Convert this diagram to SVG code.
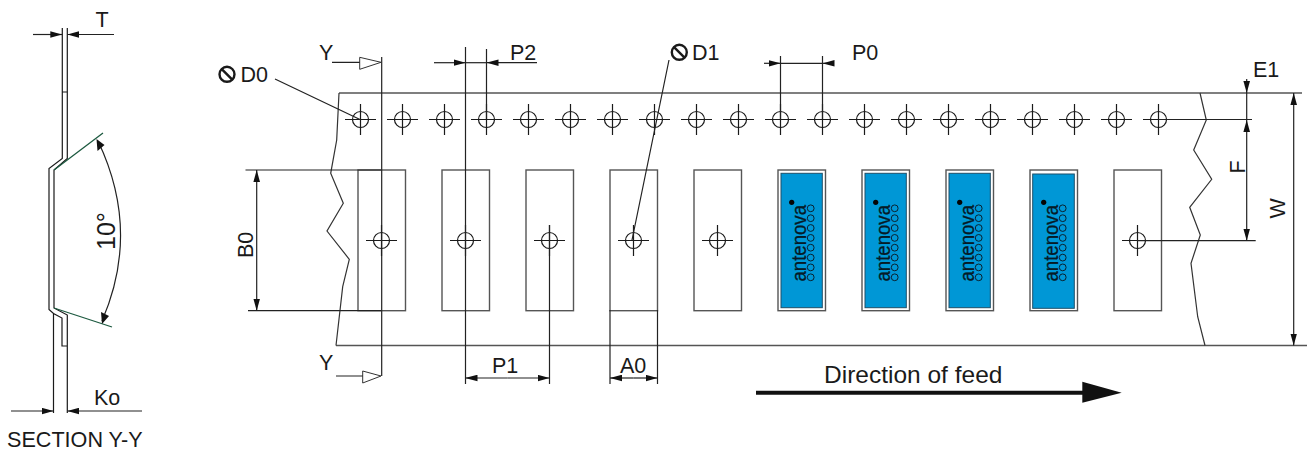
<svg xmlns="http://www.w3.org/2000/svg" width="1308" height="453" viewBox="0 0 1308 453">
<style>
text{font-family:"Liberation Sans",Arial,sans-serif;font-size:21.500px;fill:#1a1a1a}
.l{fill:none;stroke:#1a1a1a;stroke-width:1.2}
.g{fill:none;stroke:#555;stroke-width:1.4}
.t{fill:none;stroke:#333;stroke-width:1.2}
.d{fill:none;stroke:#222;stroke-width:1.2}
.a{marker-end:url(#arr)}
.grn{fill:none;stroke:#1d5a40;stroke-width:1.3}
.blue{fill:#0097d6;stroke:#1f4f68;stroke-width:1}
.brand{font-size:20.500px;fill:#061a26;stroke:#061a26;stroke-width:.3}
.c{fill:none;stroke:#0a2230;stroke-width:1}
</style>
<defs>
<marker id="arr" markerUnits="userSpaceOnUse" markerWidth="12" markerHeight="7" refX="12" refY="3.500" orient="auto"><path d="M0 0.200L12 3.500L0 6.800z" fill="#111"/></marker>
<g id="hole"><circle r="8" class="l"/><path d="M-15.500 0H15.500M0 -15.500V15.500" class="l"/></g>
<g id="phi"><circle r="7.500" fill="none" stroke="#1a1a1a" stroke-width="2.400"/><path d="M-5.500 -5.500L5.500 5.500" fill="none" stroke="#1a1a1a" stroke-width="2.400"/></g>
<g id="logo">
<text class="brand" transform="translate(27.700 111.500) rotate(-90)" textLength="76.500" lengthAdjust="spacingAndGlyphs">antenova</text>
<circle cx="13.700" cy="32.300" r="2.600" fill="#050505"/>
<g class="c"><circle cx="32.700" cy="38.300" r="3.400"/><circle cx="32.700" cy="48.200" r="3.400"/><circle cx="32.700" cy="58" r="3.400"/><circle cx="32.700" cy="67.900" r="3.400"/><circle cx="32.700" cy="77.700" r="3.400"/><circle cx="32.700" cy="87.600" r="3.400"/><circle cx="32.700" cy="97.400" r="3.400"/><circle cx="32.700" cy="107.300" r="3.400"/></g>
</g>
</defs>

<g id="section-view">
<path class="l" d="M62.300 28V158.500L49 168.500V309.500L53.500 313.500L62 318V346H67.300M67.300 28V158.500L54 170V308L67.300 315V413M53.500 313V413M62.300 92H67.300"/>
<path class="grn" d="M54 170L103 133M54 308L112 327"/>
<path class="d" d="M98 141Q141 231 102 321"/>
<path d="M96.500 139L104.500 145L97.500 151z" fill="#111"/>
<path d="M102 324L101 312L109 316z" fill="#111"/>
<text transform="translate(114.500 250) rotate(-90)" style="font-size:25px">10°</text>
<text x="95.500" y="27">T</text>
<text x="94" y="405">Ko</text>
<text x="7" y="447" style="font-size:21.600px">SECTION Y-Y</text>
</g>

<g id="tape">
<path class="g" d="M339 93H1302M336 345.500H1307"/>
<path class="t" d="M339 93L336.700 140L330.700 173.300L343.300 203.300L327 231L349.300 259.300L342.700 286.700L336 345.500"/>
<path class="t" d="M1200 93L1206.300 120L1193.700 150L1211.700 179.300L1189.700 207.300L1200.300 235L1191 263.300L1197.700 316.700L1205 345.500"/>
</g>

<g id="sprocket-holes">
<use href="#hole" x="360.500" y="119.500"/><use href="#hole" x="402.500" y="119.500"/><use href="#hole" x="444.500" y="119.500"/><use href="#hole" x="486.500" y="119.500"/><use href="#hole" x="528.500" y="119.500"/><use href="#hole" x="570.500" y="119.500"/><use href="#hole" x="612.500" y="119.500"/><use href="#hole" x="654.500" y="119.500"/><use href="#hole" x="696.500" y="119.500"/><use href="#hole" x="738.500" y="119.500"/><use href="#hole" x="780.500" y="119.500"/><use href="#hole" x="822.500" y="119.500"/><use href="#hole" x="864.500" y="119.500"/><use href="#hole" x="906.500" y="119.500"/><use href="#hole" x="948.500" y="119.500"/><use href="#hole" x="990.500" y="119.500"/><use href="#hole" x="1032.500" y="119.500"/><use href="#hole" x="1074.500" y="119.500"/><use href="#hole" x="1116.500" y="119.500"/><use href="#hole" x="1158.500" y="119.500"/>
</g>

<g id="cavity-1"><rect class="g" x="358" y="170" width="47.500" height="140.700"/><use href="#hole" x="381.500" y="240.500"/></g>
<g id="cavity-2"><rect class="g" x="442" y="170" width="47.500" height="140.700"/><use href="#hole" x="465.500" y="240.500"/></g>
<g id="cavity-3"><rect class="g" x="526" y="170" width="47.500" height="140.700"/><use href="#hole" x="549.500" y="240.500"/></g>
<g id="cavity-4"><rect class="g" x="610" y="170" width="47.500" height="140.700"/><use href="#hole" x="633.500" y="240.500"/></g>
<g id="cavity-5"><rect class="g" x="694" y="170" width="47.500" height="140.700"/><use href="#hole" x="717.500" y="240.500"/></g>
<g id="cavity-6"><rect class="g" x="778" y="170" width="47.500" height="140.700"/><rect class="blue" x="781" y="173.300" width="41.300" height="134.400"/><use href="#logo" x="778" y="170"/></g>
<g id="cavity-7"><rect class="g" x="862" y="170" width="47.500" height="140.700"/><rect class="blue" x="865" y="173.300" width="41.300" height="134.400"/><use href="#logo" x="862" y="170"/></g>
<g id="cavity-8"><rect class="g" x="946" y="170" width="47.500" height="140.700"/><rect class="blue" x="949" y="173.300" width="41.300" height="134.400"/><use href="#logo" x="946" y="170"/></g>
<g id="cavity-9"><rect class="g" x="1030" y="170" width="47.500" height="140.700"/><rect class="blue" x="1032.700" y="174" width="41.600" height="134.300"/><use href="#logo" x="1030" y="170"/></g>
<g id="cavity-10"><rect class="g" x="1114" y="170" width="47.500" height="140.700"/><use href="#hole" x="1137.500" y="240.500"/></g>

<g id="connectors">
<path class="d a" d="M33 34.500H62.300"/>
<path class="d a" d="M114 34.500H67.300"/>
<path class="d a" d="M11 411H53.500"/><path class="d a" d="M142 411H67.300"/>

<path class="d" d="M381.700 57V376M465.500 47V384M486.500 49V119M549.500 225V384M610 310V384M657.500 310V384M780.500 56V119M822.500 56V119"/>
<path class="d" d="M332 62.300H360M336 376H363"/>
<path fill="none" stroke="#333" stroke-width="1" d="M359.700 57.300L381 62.300L359.700 69.300zM362.700 371L381 376L362.700 383z"/>
<path class="d a" d="M434 62.700H465.500"/><path class="d a" d="M537 62.700H486.500"/><path class="d" d="M465.500 62.700H486.500"/>
<path class="d a" d="M764 63.300H780.500"/><path class="d a" d="M834 63.300H822.500"/><path class="d" d="M780.500 63.300H822.500"/>
<path class="d" d="M275 79L360 119.500M669 60L632 240"/>
<path class="d a" d="M507.500 378H465.500"/><path class="d a" d="M507.500 378H549.500"/>
<path class="d a" d="M633.500 378H610"/><path class="d a" d="M633.500 378H657.500"/>
<path class="d" d="M245.500 170H381M248 310.700H381"/>
<path class="d a" d="M256.700 240V170"/><path class="d a" d="M256.700 240V310.700"/>
<path class="d" d="M1158 119.500H1252M1137 240.700H1255.700"/>
<path class="d a" d="M1246.700 79V93"/><path class="d" d="M1246.700 93V120"/>
<path class="d a" d="M1246.700 180V120"/><path class="d a" d="M1246.700 180V240.700"/>
<path class="d a" d="M1293.700 220V93"/><path class="d a" d="M1293.700 220V345.500"/>
<path d="M756 392.700H1090" stroke="#111" stroke-width="4" fill="none"/><path d="M1082.300 381.700L1121.700 392.700L1082.300 402.700z" fill="#111"/>
</g>

<g id="labels">
<text x="319" y="60">Y</text>
<text x="319" y="370">Y</text>
<use href="#phi" x="227" y="74.300"/><text x="240.500" y="81.500">D0</text>
<use href="#phi" x="679.300" y="52.300"/><text x="692" y="60">D1</text>
<text x="510" y="60">P2</text>
<text x="852" y="60">P0</text>
<text x="492" y="373">P1</text>
<text x="620" y="373">A0</text>
<text transform="translate(253 258) rotate(-90)">B0</text>
<text x="1253" y="77">E1</text>
<text transform="translate(1245 173.500) rotate(-90)">F</text>
<text transform="translate(1285 218.500) rotate(-90)">W</text>
<text x="824" y="383.300" style="font-size:24.500px">Direction of feed</text>
</g>
</svg>
